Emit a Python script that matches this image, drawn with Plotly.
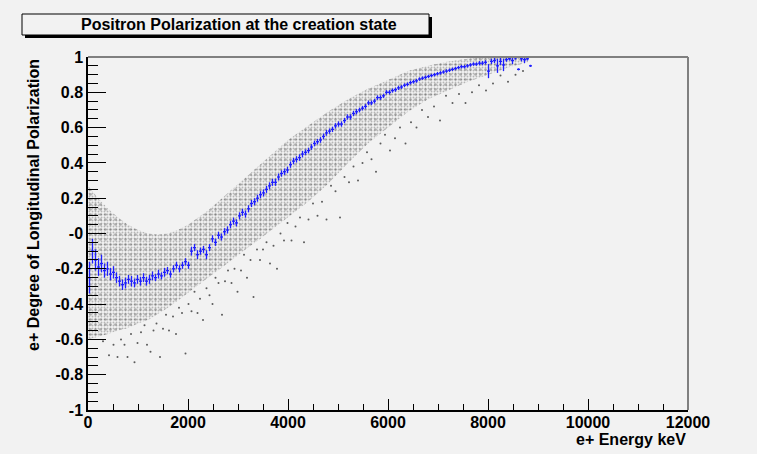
import plotly.graph_objects as go

# ---------------- data ----------------
# Envelope of the dense scatter cloud (energy keV -> polarization)
env_energy = [0, 200, 400, 600, 800, 1000, 1200, 1400, 1600, 1800, 2000, 2200, 2400, 2600,
              2800, 3000, 3200, 3400, 3600, 3800, 4000, 4400, 4800, 5200, 5600, 6000,
              6400, 6800, 7200, 7600, 8000, 8400, 8800]
env_upper = [0.27, 0.20, 0.14, 0.09, 0.05, 0.02, 0.0, -0.005, 0.0, 0.02, 0.05, 0.09, 0.13, 0.18,
             0.23, 0.28, 0.33, 0.38, 0.43, 0.48, 0.53, 0.61, 0.69, 0.76, 0.82, 0.87,
             0.92, 0.95, 0.975, 0.99, 1.0, 1.0, 0.995]
env_lower = [-0.60, -0.585, -0.57, -0.55, -0.535, -0.51, -0.49, -0.455, -0.42, -0.38, -0.34, -0.295, -0.25, -0.21,
             -0.17, -0.125, -0.08, -0.04, 0.0, 0.045, 0.09, 0.18, 0.28, 0.40, 0.51, 0.60,
             0.69, 0.76, 0.81, 0.86, 0.90, 0.94, 0.97]

# Sparse outlier points below the band
out_energy = [300, 420, 510, 590, 660, 730, 790, 860, 930, 990, 1060, 1130, 1180, 1250, 1310, 1370,
              1440, 1500, 1560, 1620, 1700, 1760, 1820, 1880, 1950, 2010, 2070, 2130, 2190, 2240,
              2300, 2370, 2430, 2490, 2550, 2610, 2680, 2740, 2800, 2870, 2930, 2990, 3060, 3120,
              3180, 3250, 3310, 3380, 3440, 3500, 3570, 3640, 3710, 3780, 3850, 3920, 3990, 4070,
              4150, 4240, 4320, 4410, 4500, 4590, 4680, 4770, 4860, 4950, 5040, 5130, 5220, 5310,
              5400, 5490, 5580, 5670, 5760, 5850, 5940, 6040, 6140, 6240, 6350, 6460, 6570, 6680,
              6800, 6920, 7040, 7160, 7290, 7420, 7550, 7680, 7820, 7960, 8100, 8250, 8400, 8550, 8700]
out_pol = [-0.61, -0.69, -0.63, -0.70, -0.60, -0.63, -0.70, -0.57, -0.73, -0.62, -0.56, -0.52, -0.63, -0.67, -0.55, -0.51,
           -0.70, -0.54, -0.46, -0.55, -0.47, -0.57, -0.42, -0.45, -0.68, -0.40, -0.44, -0.33, -0.45, -0.37,
           -0.49, -0.31, -0.35, -0.40, -0.25, -0.28, -0.46, -0.27, -0.21, -0.28, -0.20, -0.33, -0.21, -0.12,
           -0.25, -0.15, -0.36, -0.09, -0.15, -0.09, -0.05, -0.17, -0.07, -0.20, 0.0, -0.04, 0.06, -0.04,
           0.04, 0.09, -0.05, 0.08, 0.17, 0.10, 0.18, 0.08, 0.27, 0.24, 0.09, 0.32, 0.29, 0.38,
           0.30, 0.40, 0.46, 0.42, 0.35, 0.51, 0.56, 0.47, 0.54, 0.60, 0.51, 0.63, 0.60, 0.70,
           0.66, 0.72, 0.64, 0.78, 0.74, 0.79, 0.74, 0.80, 0.84, 0.81, 0.85, 0.895, 0.86, 0.90, 0.92]

# Profile (mean polarization per 60 keV bin) and its errors
prof_energy = [30 + 60 * i for i in range(148)]
prof_mean = [
    -0.25, -0.10, -0.15, -0.19, -0.17, -0.21, -0.20, -0.23, -0.22, -0.25,
    -0.27, -0.29, -0.28, -0.26, -0.27, -0.28, -0.26, -0.27, -0.25, -0.27,
    -0.26, -0.24, -0.25, -0.23, -0.24, -0.22, -0.21, -0.23, -0.20, -0.18,
    -0.20, -0.18, -0.16, -0.18, -0.10, -0.08, -0.12, -0.10, -0.09, -0.12,
    -0.08, -0.03, -0.05, -0.01, -0.02, 0.01, 0.02, 0.05, 0.07, 0.06,
    0.10, 0.12, 0.11, 0.14, 0.17, 0.18, 0.20, 0.22, 0.23, 0.25,
    0.27, 0.29, 0.29, 0.32, 0.34, 0.35, 0.36, 0.39, 0.41, 0.42,
    0.43, 0.45, 0.46, 0.47, 0.49, 0.51, 0.52, 0.53, 0.55, 0.57,
    0.58, 0.59, 0.61, 0.62, 0.62, 0.64, 0.66, 0.66, 0.68, 0.69,
    0.70, 0.71, 0.72, 0.74, 0.74, 0.75, 0.77, 0.77, 0.78, 0.80,
    0.80, 0.81, 0.815, 0.825, 0.83, 0.84, 0.845, 0.855, 0.86, 0.865,
    0.875, 0.88, 0.885, 0.89, 0.895, 0.90, 0.905, 0.91, 0.915, 0.92,
    0.925, 0.93, 0.935, 0.94, 0.945, 0.945, 0.95, 0.955, 0.96, 0.96,
    0.965, 0.965, 0.97, 0.92, 0.975, 0.98, 0.95, 0.975, 0.955, 0.985,
    0.99, 0.98, 0.995, 0.93, 0.99, 0.985, 0.99, 0.95,
]
prof_err = [
    0.09, 0.07, 0.06, 0.05, 0.05, 0.04, 0.04, 0.035, 0.035, 0.03,
    0.03, 0.03, 0.03, 0.025, 0.03, 0.025, 0.025, 0.025, 0.025, 0.025,
    0.025, 0.025, 0.02, 0.025, 0.02, 0.025, 0.02, 0.02, 0.02, 0.02,
    0.02, 0.02, 0.02, 0.02, 0.025, 0.02, 0.025, 0.02, 0.02, 0.025,
    0.02, 0.02, 0.02, 0.02, 0.02, 0.02, 0.02, 0.02, 0.02, 0.02,
    0.02, 0.02, 0.02, 0.02, 0.02, 0.02, 0.02, 0.02, 0.02, 0.02,
    0.02, 0.02, 0.02, 0.02, 0.018, 0.018, 0.018, 0.018, 0.018, 0.018,
    0.018, 0.018, 0.016, 0.016, 0.016, 0.016, 0.016, 0.016, 0.016, 0.016,
    0.015, 0.015, 0.015, 0.015, 0.015, 0.015, 0.015, 0.015, 0.015, 0.015,
    0.013, 0.013, 0.013, 0.013, 0.013, 0.013, 0.013, 0.013, 0.012, 0.012,
    0.012, 0.012, 0.012, 0.012, 0.011, 0.011, 0.011, 0.011, 0.011, 0.011,
    0.01, 0.01, 0.01, 0.01, 0.01, 0.01, 0.01, 0.01, 0.01, 0.01,
    0.01, 0.01, 0.01, 0.01, 0.01, 0.01, 0.01, 0.01, 0.01, 0.01,
    0.012, 0.012, 0.012, 0.04, 0.015, 0.015, 0.04, 0.02, 0.035, 0.012,
    0.01, 0.02, 0.01, 0.006, 0.015, 0.02, 0.01, 0.006,
]

y_tickvals = [1, 0.8, 0.6, 0.4, 0.2, 0, -0.2, -0.4, -0.6, -0.8, -1]
y_ticktext = ["1", "0.8", "0.6", "0.4", "0.2", "-0", "-0.2", "-0.4", "-0.6", "-0.8", "-1"]
x_tickvals = [0, 2000, 4000, 6000, 8000, 10000, 12000]
x_ticktext = ["0", "2000", "4000", "6000", "8000", "10000", "12000"]

title_text = "Positron Polarization at the creation state"
x_title = "e+ Energy keV"
y_title = "e+ Degree of Longitudinal Polarization"

# ---------------- figure ----------------
W, H = 757, 454
L, R, T, B = 88, 69, 57, 44
BG = "#f2f2f2"
FONT = "Liberation Sans"

fig = go.Figure()

band_x = env_energy + env_energy[::-1]
band_y = env_upper + env_lower[::-1]

# dense scatter cloud drawn as two overlaid dotted fills
for size, sol, col in [(3, 0.3, "rgba(20,20,20,0.55)"), (5, 0.22, "rgba(20,20,20,0.6)")]:
    fig.add_trace(go.Scatter(
        x=band_x, y=band_y,
        mode="lines", line=dict(width=0),
        fill="toself", fillcolor="rgba(0,0,0,0)",
        fillpattern=dict(shape=".", size=size, solidity=sol,
                         fgcolor=col, bgcolor="rgba(0,0,0,0)"),
        hoverinfo="skip", showlegend=False,
    ))

fig.add_trace(go.Scatter(
    x=out_energy, y=out_pol, mode="markers",
    marker=dict(size=2, color="rgba(40,40,40,0.75)"),
    showlegend=False, hoverinfo="skip",
))

fig.add_trace(go.Scatter(
    x=prof_energy, y=prof_mean, mode="markers",
    marker=dict(size=1, color="#1f1fff"),
    error_y=dict(type="data", array=prof_err, color="#1f1fff", thickness=1.3, width=0),
    error_x=dict(type="constant", value=30, color="#1f1fff", thickness=1.3, width=0),
    showlegend=False,
))

tickfont = dict(family=FONT, size=16, color="black", weight="bold")

fig.update_xaxes(
    range=[0, 12000], tickvals=x_tickvals, ticktext=x_ticktext,
    ticks="inside", ticklen=11, tickcolor="black", tickwidth=1,
    minor=dict(dtick=500, ticks="inside", ticklen=6, tickcolor="black", tickwidth=1),
    showline=True, linecolor="black", linewidth=1.5,
    showgrid=False, zeroline=False, tickfont=tickfont, ticklabelstandoff=-3,
)
fig.update_yaxes(
    range=[-1, 1], tickvals=y_tickvals, ticktext=y_ticktext,
    ticks="inside", ticklen=18, tickcolor="black", tickwidth=1,
    minor=dict(dtick=0.05, ticks="inside", ticklen=10, tickcolor="black", tickwidth=1),
    showline=True, linecolor="black", linewidth=1.5,
    showgrid=False, zeroline=False, tickfont=tickfont,
)

def px_x(p):
    return (p - L) / (W - L - R)

def px_y(p):
    return (H - B - p) / (H - T - B)

shapes = [
    dict(type="line", xref="paper", yref="paper", x0=0, x1=1, y0=1, y1=1,
         line=dict(color="#808080", width=2)),
    dict(type="line", xref="paper", yref="paper", x0=1, x1=1, y0=0, y1=1,
         line=dict(color="#808080", width=2)),
    dict(type="rect", xref="paper", yref="paper",
         x0=px_x(25), x1=px_x(432), y0=px_y(38), y1=px_y(17),
         fillcolor="black", line=dict(width=0)),
    dict(type="rect", xref="paper", yref="paper",
         x0=px_x(22), x1=px_x(429), y0=px_y(35), y1=px_y(14),
         fillcolor=BG, line=dict(color="black", width=1)),
]

annotations = [
    dict(text=title_text, xref="paper", yref="paper", x=px_x(239), y=px_y(24.5),
         xanchor="center", yanchor="middle", showarrow=False,
         font=dict(family=FONT, size=16, color="black", weight="bold")),
    dict(text=x_title, xref="paper", yref="paper", x=1, y=px_y(439),
         xanchor="right", yanchor="middle", showarrow=False,
         font=dict(family=FONT, size=16, color="black", weight="bold")),
    dict(text=y_title, xref="paper", yref="paper", x=px_x(33), y=1,
         xanchor="center", yanchor="top", textangle=-90, showarrow=False,
         font=dict(family=FONT, size=16, color="black", weight="bold")),
]

fig.update_layout(
    width=W, height=H,
    margin=dict(l=L, r=R, t=T, b=B),
    paper_bgcolor=BG, plot_bgcolor=BG,
    shapes=shapes, annotations=annotations,
    showlegend=False,
)

fig.write_html("out.html")
